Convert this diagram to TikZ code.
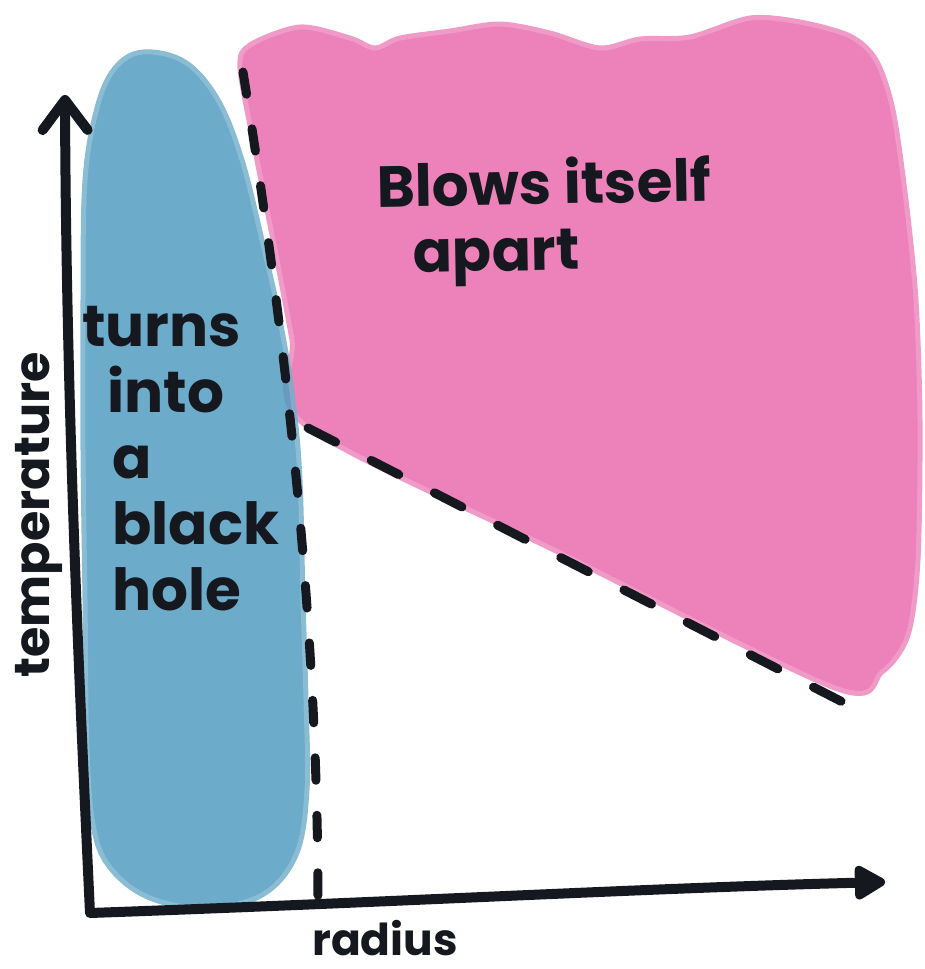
\documentclass[tikz,border=0pt]{standalone}
\usepackage{fontspec}
\setmainfont{Poppins}
\usetikzlibrary{arrows.meta}
\definecolor{inkc}{HTML}{15181E}
\definecolor{bluewash}{HTML}{529CBF}
\definecolor{pinkwash}{HTML}{EC82B9}

\begin{document}
\begin{tikzpicture}[
    x=0.2mm, y=-0.2mm,
    every node/.style={text=inkc, inner sep=0pt},
    wash/.style={fill=#1, draw=#1!80, line width=1mm, line join=round},
    axis/.style={draw=inkc, line width=2mm, line join=round},
    boundary/.style={draw=inkc, line width=1.8mm, line cap=round, dash pattern=on 4.5mm off 7mm},
    region/.style={font=\bfseries\fontsize{33}{37.5}\selectfont, align=left},
    axislabel/.style={font=\bfseries\fontsize{28}{32}\selectfont}
]
\useasboundingbox (0,0) rectangle (925,969);

\path[wash=pinkwash] plot[smooth cycle, tension=0.5] coordinates {
    (240,68) (250,45) (300,27) (350,38) (375,48) (400,38) (450,31) (500,24)
    (550,33) (600,48) (640,39) (690,37) (750,18) (800,22) (850,36) (876,60)
    (893,110) (906,200) (916,300) (920,420) (918,560) (908,635) (882,672)
    (835,688) (560,553) (305,425) (292,340) (275,250) (255,150)};
\begin{scope}[transparency group, opacity=0.85]
\path[wash=bluewash] plot[smooth cycle, tension=0.6] coordinates {
    (143,52) (185,62) (218,100) (242,160) (262,240) (280,320) (293,400)
    (300,480) (303,600) (306,700) (307,790) (296,855) (262,895) (205,908)
    (150,898) (112,870) (94,830) (87,750) (85,600) (83,450) (83,300)
    (85,180) (97,108) (115,68)};
\end{scope}

\coordinate (origin) at (90,913);
\coordinate (ytop) at (65,95);
\coordinate (xend) at (885,882);
\coordinate (split top) at (243,72);
\coordinate (split bottom) at (318,905);
\coordinate (edge start) at (308,428);
\coordinate (edge end) at (862,712);

\draw[boundary] (split top) .. controls (280,300) and (318,600) .. (split bottom);
\draw[boundary, dash pattern=on 6.2mm off 8mm] (edge start) -- (edge end);
\draw[axis, {Straight Barb[length=6mm,width=9mm,round]}-{Triangle[length=7mm,width=7.5mm,round]}]
    (ytop) .. controls (66,400) and (80,700) .. (origin) .. controls (400,902) and (650,888) .. (xend);

\node[region, anchor=base west, rotate=1] (blows) at (378,273) {Blows itself\\\hspace*{7mm}apart};
\node[region, anchor=base west] (blackhole) at (82,610)
    {turns\\\hspace*{5mm}into\\\hspace*{6mm}a\\\hspace*{6mm}black\\\hspace*{6mm}hole};
\node[axislabel, rotate=90, anchor=base] (temp) at (50,515) {temperature};
\node[axislabel, font=\bfseries\fontsize{25}{29}\selectfont, anchor=base west] (radius) at (312,955) {radius};
\end{tikzpicture}
\end{document}
